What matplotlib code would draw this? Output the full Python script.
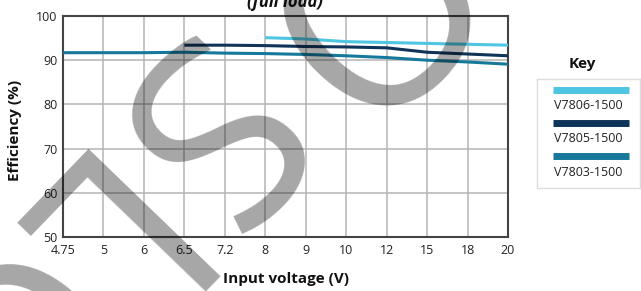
import numpy as np
import matplotlib
matplotlib.use("Agg")
import matplotlib.pyplot as plt

plt.rcParams['font.family'] = ['Open Sans', 'DejaVu Sans']

# data
voltages = ['4.75', '5', '6', '6.5', '7.2', '8', '9', '10', '12', '15', '18', '20']
nan = np.nan
eff_7806 = [nan, nan, nan, nan, nan, 95.1, 94.8, 94.2, 94.0, 93.8, 93.6, 93.4]
eff_7805 = [nan, nan, nan, 93.4, 93.4, 93.3, 93.1, 93.0, 92.8, 91.8, 91.4, 91.0]
eff_7803 = [91.7, 91.7, 91.7, 91.8, 91.6, 91.5, 91.3, 91.0, 90.6, 90.0, 89.6, 89.1]
series = ['V7806-1500', 'V7805-1500', 'V7803-1500']
colors = ['#4fc6e1', '#0f3459', '#16799b']

W, H = 641, 291
fig = plt.figure(figsize=(W / 100, H / 100), dpi=100)
ax = fig.add_axes([63 / W, 1 - 237 / H, (508 - 63) / W, (237 - 16) / H])

x = np.arange(len(voltages))
for vals, c in zip([eff_7806, eff_7805, eff_7803], colors):
    ax.plot(x, vals, color=c, lw=2.2, solid_capstyle='butt', zorder=3)

ax.set_xlim(0, len(voltages) - 1)
ax.set_ylim(50, 100)
ax.set_xticks(x)
ax.set_xticklabels(voltages)
ax.set_yticks(np.arange(50, 101, 10))
ax.tick_params(length=0, labelsize=9, colors='#222222')
ax.tick_params(axis='x', pad=5)
ax.tick_params(axis='y', pad=4)
ax.grid(True, color='#b4b4b4', lw=1.1)
ax.set_axisbelow(True)
for s in ax.spines.values():
    s.set_color('#444444')
    s.set_linewidth(1.5)

fig.text(286 / W, 1 - 283 / H, 'Input voltage (V)', ha='center', va='baseline',
         fontsize=11, fontweight='bold', color='#111111')
fig.text(15 / W, 1 - 130 / H, 'Efficiency (%)', ha='center', va='center',
         rotation=90, fontsize=11, fontweight='bold', color='#111111')
fig.text(285 / W, 1 - 7 / H, '(full load)', ha='center', va='baseline',
         fontsize=12, fontweight='bold', fontstyle='italic', color='#111111')

# key panel
fig.text(582 / W, 1 - 68 / H, 'Key', ha='center', va='baseline',
         fontsize=11, fontweight='bold', color='#111111')
kax = fig.add_axes([537 / W, 1 - 188 / H, 103 / W, 109 / H])
kax.set_xlim(537, 640)
kax.set_ylim(188, 79)
kax.set_xticks([])
kax.set_yticks([])
for s in kax.spines.values():
    s.set_color('#dddddd')
    s.set_linewidth(1)
for i, (name, c) in enumerate(zip(series, colors)):
    yb = 89.5 + i * 33.3
    kax.plot([553, 629], [yb, yb], color=c, lw=5, solid_capstyle='butt')
    kax.text(588, yb + 19.5, name, ha='center', va='baseline', fontsize=9,
             color='#222222')

# watermark letters
wm = dict(fontsize=185, color='black', alpha=0.35, rotation=226,
          rotation_mode='anchor', ha='center', va='center', zorder=10)
for ch, (px, py) in zip('OSLO', [(332, 4), (178, 127), (64, 242), (-25, 349)]):
    fig.text(px / W, 1 - py / H, ch, **wm)

fig.savefig('out.png', dpi=100)
